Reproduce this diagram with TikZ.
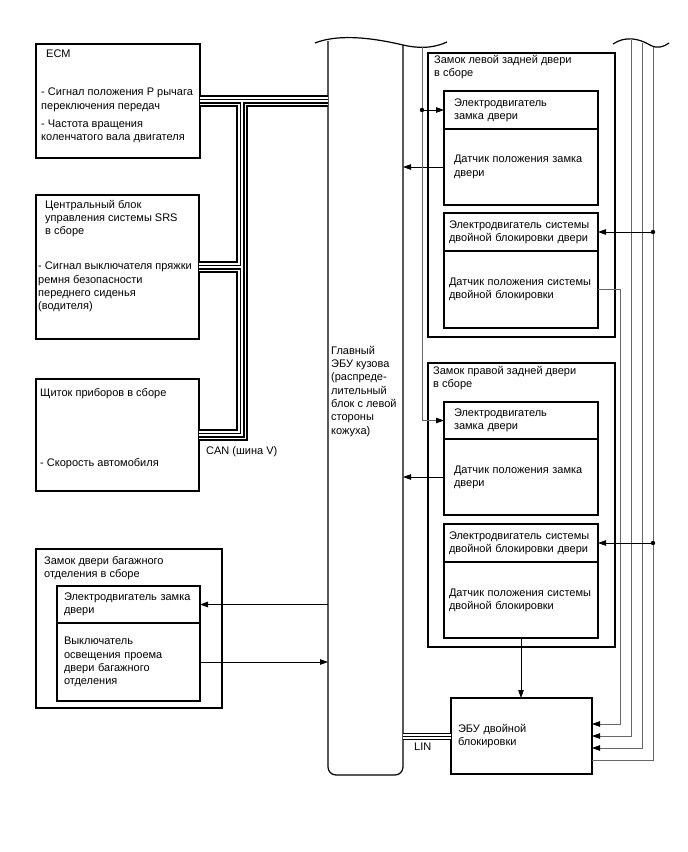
\documentclass[tikz,border=0pt]{standalone}
\usepackage{fontspec}
\setmainfont{Liberation Sans}
\usetikzlibrary{arrows.meta,positioning}

\tikzset{
  blk/.style={draw, line width=1.2pt, anchor=north west, outer sep=0pt, inner sep=0pt},
  sect/.style={draw, line width=1.1pt, anchor=north west, outer sep=0pt, inner xsep=10pt, inner ysep=0pt, text width=134pt, minimum width=154pt, align=left},
  sectdl/.style={sect, inner xsep=5pt, text width=144pt},
  lbl/.style={anchor=north west, align=left, inner sep=0pt},
  wire/.style={black!60, line width=0.8pt},
  sig/.style={->, line width=0.8pt},
}

\begin{document}
\begin{tikzpicture}[x=1pt, y=-1pt, >={Triangle[length=8pt,width=5.5pt,color=black]}, font=\fontsize{11}{13.3}\selectfont]
    \useasboundingbox (0,0) rectangle (688,852);

    % CAN units on the left
    \node[blk, minimum width=164, minimum height=114] (ecm) at (36,44) {};
    \node[lbl] (ecmname) at (46,50) {ECM};
    \node[lbl] (ecmsig) at (41,88) {- Сигнал положения Р рычага\\переключения передач\\[5pt]- Частота вращения\\коленчатого вала двигателя};

    \node[blk, minimum width=163, minimum height=144] (srs) at (36,195) {};
    \node[lbl] (srsname) at (45,200) {Центральный блок\\управления системы SRS\\в сборе};
    \node[lbl] (srssig) at (38,262) {- Сигнал выключателя пряжки\\ремня безопасности\\переднего сиденья\\(водителя)};

    \node[blk, minimum width=163, minimum height=112] (clu) at (36,379) {};
    \node[lbl] (cluname) at (40,388) {Щиток приборов в сборе};
    \node[lbl] (clusig) at (40,458) {- Скорость автомобиля};

    % Trunk lid lock
    \node[blk, minimum width=186, minimum height=159] (trunk) at (36,549) {};
    \node[lbl] (trunkname) at (44,556) {Замок двери багажного\\отделения в сборе};
    \node[sect, inner xsep=7pt, text width=129pt, minimum width=143pt, minimum height=37] (tmot) at (57,586) {Электродвигатель замка\\двери};
    \node[sect, inner xsep=7pt, text width=129pt, minimum width=143pt, minimum height=78] (tsw) at (57,623) {Выключатель\\освещения проема\\двери багажного\\отделения};

    % Main body ECU (cut at the top)
    \node[inner sep=0pt, outer sep=0pt, minimum width=75, minimum height=734, anchor=north west] (ebu) at (328,41) {};
    \draw[line width=1.2pt, rounded corners=8pt] (ebu.north west) -- (ebu.south west) -- (ebu.south east) -- ([yshift=-4pt]ebu.north east);
    \draw[line width=1.2pt] (315,43) .. controls (335,35) and (365,36) .. (403,45) .. controls (425,50) and (438,46) .. (447,42);
    \node[lbl] (ebuname) at (331,346) {Главный\\ЭБУ кузова\\(распреде-\\лительный\\блок с левой\\стороны\\кожуха)};

    % Left rear door lock
    \node[blk, minimum width=187, minimum height=284] (ldoor) at (428,53) {};
    \node[lbl] (ldoorname) at (434,55) {Замок левой задней двери\\в сборе};
    \node[sect, minimum height=38] (lmot) at (444,91) {Электродвигатель\\замка двери};
    \node[sect, minimum height=76] (lsens) at (444,129) {Датчик положения замка\\двери};
    \node[sectdl, minimum height=38] (ldlmot) at (444,213) {Электродвигатель системы\\двойной блокировки двери};
    \node[sectdl, minimum height=77] (ldlsens) at (444,251) {Датчик положения системы\\двойной блокировки};

    % Right rear door lock
    \node[blk, minimum width=187, minimum height=284] (rdoor) at (428,363) {};
    \node[lbl] (rdoorname) at (433,366) {Замок правой задней двери\\в сборе};
    \node[sect, minimum height=37] (rmot) at (444,402) {Электродвигатель\\замка двери};
    \node[sect, minimum height=76] (rsens) at (444,439) {Датчик положения замка\\двери};
    \node[sectdl, minimum height=38] (rdlmot) at (444,524) {Электродвигатель системы\\двойной блокировки двери};
    \node[sectdl, minimum height=76] (rdlsens) at (444,562) {Датчик положения системы\\двойной блокировки};

    % Double lock ECU
    \node[sect, inner xsep=7pt, text width=127pt, minimum width=141pt, minimum height=76] (dlecu) at (451,698) {ЭБУ двойной\\блокировки};

    % CAN bus (V bus)
    \coordinate (canj) at ([xshift=42pt]ecm.east);
    \foreach \w/\c in {12/black, 8/white, 5/black, 2/white} {
        \draw[line width=\w pt, \c] (ecm.east) -- (ecm.east -| ebu.west);
        \draw[line width=\w pt, \c] (srs.east) -- (srs.east -| canj);
        \draw[line width=\w pt, \c] (canj) -- (canj |- clu.east) -- (clu.east);
    }
    \node[lbl] (can) at (206,446) {CAN (шина V)};

    % LIN bus
    \foreach \w/\c in {7/black, 5/white, 1/black} {
        \draw[line width=\w pt, \c] (dlecu.west -| ebu.east) -- (dlecu.west);
    }
    \node[lbl] (lin) at (414,743) {LIN};

    % Signals to and from the main ECU
    \draw[sig] (lsens.west) -- (lsens.west -| ebu.east);
    \draw[sig] (rsens.west) -- (rsens.west -| ebu.east);
    \draw[sig] (tmot.east -| ebu.west) -- (tmot.east);
    \draw[sig] (tsw.east) -- (tsw.east -| ebu.west);

    % Lock motor feed
    \coordinate (wtop) at (422,47);
    \coordinate (ldot) at (wtop |- lmot.west);
    \draw[->, wire] (wtop) -- (wtop |- rmot.west) -- (rmot.west);
    \draw[sig] (ldot) -- (lmot.west);
    \fill (ldot) circle (2.2pt);

    % Wires to the double lock ECU (cut at the top)
    \draw[line width=1.2pt] (613,44) .. controls (625,36) and (638,38) .. (650,45) .. controls (657,49) and (664,47) .. (669,43);
    \coordinate (wb) at (631,40);
    \coordinate (wc) at (642,43);
    \coordinate (wd) at (653,47);
    \draw[->, wire] (ldlsens.east) -- ++(22,0) |- ([yshift=12pt]dlecu.east);
    \draw[->, wire] (wb) |- (dlecu.east);
    \draw[->, wire] (wc) |- ([yshift=-12pt]dlecu.east);
    \draw[wire] (wd) |- ([yshift=-24pt]dlecu.east);
    \foreach \m/\d in {ldlmot/ldd, rdlmot/rdd} {
        \coordinate (\d) at (wd |- \m.east);
        \draw[sig] (\d) -- (\m.east);
        \fill (\d) circle (2.2pt);
    }
    \draw[sig] (rdlsens.south) -- (rdlsens.south |- dlecu.north);
\end{tikzpicture}
\end{document}
